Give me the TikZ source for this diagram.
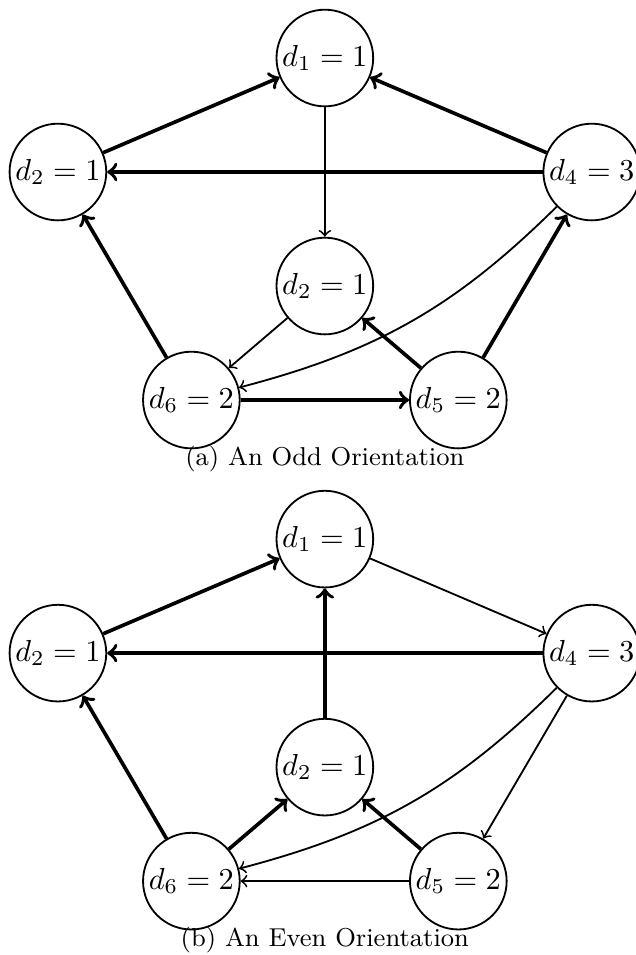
\documentclass[tikz,border=0pt]{standalone}
\begin{document}
\begin{tikzpicture}[x=43.9pt, y=37.5pt,
    vertex/.style={circle, draw, semithick, inner sep=0pt, minimum size=31.8pt},
    heavy/.style={->, very thick},
    light/.style={->, semithick},
    caption/.style={font=\fontsize{8.5pt}{10pt}\selectfont}] %[scale=0.8]
    \useasboundingbox (-2.434,0.509) rectangle (2.330,-7.868);
    % (a)
    \node[vertex] (a1) at (0,0) {\(d_1 = 1\)};
    \node[vertex] (a2) at (-2,-1) {\(d_2 = 1\)};
    \node[vertex] (a4) at (2,-1) {\(d_4 = 3\)};
    \node[vertex] (a3) at (0,-2) {\(d_2 = 1\)};
    \node[vertex] (a6) at (-1,-3) {\(d_6 = 2\)};
    \node[vertex] (a5) at (1,-3) {\(d_5 = 2\)};
    \node[caption] (capa) at (0,-3.52) {(a) An Odd Orientation};
    \draw [heavy] (a2) -- (a1);
    \draw [heavy] (a4) -- (a1);
    \draw [heavy] (a4) -- (a2);
    \draw [light] (a1) -- (a3);
    \draw [light] (a3) -- (a6);
    \draw [light] (a4) to [bend left=15] (a6);
    \draw [heavy] (a5) -- (a3);
    \draw [heavy] (a5) -- (a4);
    \draw [heavy] (a6) -- (a2);
    \draw [heavy] (a6) -- (a5);
    % (b)
    \node[vertex] (b1) at (0,-4.22) {\(d_1 = 1\)};
    \node[vertex] (b2) at (-2,-5.22) {\(d_2 = 1\)};
    \node[vertex] (b4) at (2,-5.22) {\(d_4 = 3\)};
    \node[vertex] (b3) at (0,-6.22) {\(d_2 = 1\)};
    \node[vertex] (b6) at (-1,-7.22) {\(d_6 = 2\)};
    \node[vertex] (b5) at (1,-7.22) {\(d_5 = 2\)};
    \node[caption] (capb) at (0,-7.74) {(b) An Even Orientation};
    \draw [heavy] (b2) -- (b1);
    \draw [light] (b1) -- (b4);
    \draw [heavy] (b4) -- (b2);
    \draw [heavy] (b3) -- (b1);
    \draw [heavy] (b6) -- (b3);
    \draw [heavy] (b5) -- (b3);
    \draw [light] (b4) to [bend left=15] (b6);
    \draw [light] (b4) -- (b5);
    \draw [light] (b5) -- (b6);
    \draw [heavy] (b6) -- (b2);
  \end{tikzpicture}
\end{document}
